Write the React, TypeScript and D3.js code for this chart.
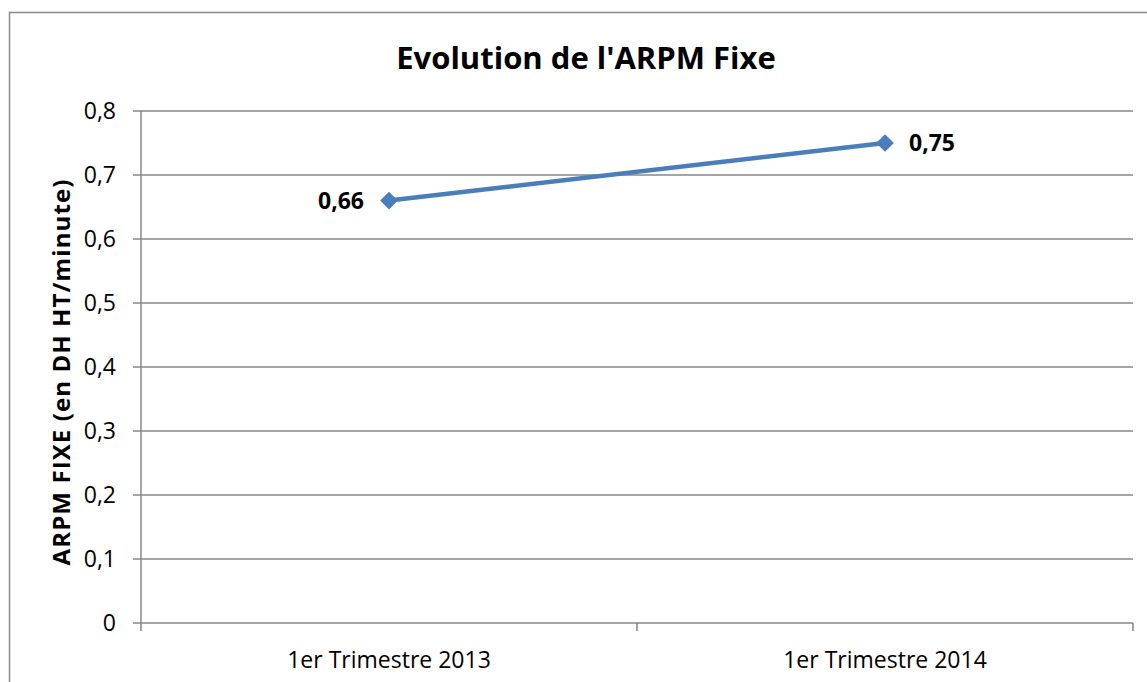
import React, { useEffect, useRef } from 'react';
import * as d3 from 'd3';

const categories = ['1er Trimestre 2013', '1er Trimestre 2014'];
const values = [0.66, 0.75];
const yTicks = [0, 0.1, 0.2, 0.3, 0.4, 0.5, 0.6, 0.7, 0.8];
const title = "Evolution de l'ARPM Fixe";
const yTitle = 'ARPM FIXE (en DH HT/minute)';

const width = 1147;
const height = 682;
const font = '"Open Sans", sans-serif';

const App: React.FC = () => {
  const svgRef = useRef<SVGSVGElement>(null);

  useEffect(() => {
    if (!svgRef.current) return;
    const svg = d3.select(svgRef.current);
    svg.selectAll('*').remove();

    const margin = { top: 111, right: 14, bottom: 59, left: 141 };
    const innerW = width - margin.left - margin.right;
    const innerH = height - margin.top - margin.bottom;
    const grid = '#878787';

    // outer chart frame
    svg.append('rect')
      .attr('x', 9.5).attr('y', 12.5)
      .attr('width', 1150).attr('height', 690)
      .attr('fill', '#fff')
      .attr('stroke', '#8c8c8c')
      .attr('stroke-width', 1.5);

    const g = svg.append('g').attr('transform', `translate(${margin.left},${margin.top})`);

    const x = d3.scaleBand().domain(categories).range([0, innerW]);
    const y = d3.scaleLinear().domain([0, 0.8]).range([innerH, 0]);

    // gridlines + y ticks
    yTicks.forEach(t => {
      g.append('line')
        .attr('x1', -8).attr('x2', innerW)
        .attr('y1', y(t)).attr('y2', y(t))
        .attr('stroke', grid).attr('stroke-width', 1.5);
      g.append('text')
        .attr('x', -25).attr('y', y(t))
        .attr('dy', '0.35em')
        .attr('text-anchor', 'end')
        .attr('font-family', font)
        .attr('font-size', 23)
        .attr('fill', '#000')
        .text(d3.format('.1f')(t).replace('.', ',').replace(/^0,0$/, '0'));
    });

    // y axis line
    g.append('line')
      .attr('x1', 0).attr('x2', 0).attr('y1', 0).attr('y2', innerH)
      .attr('stroke', grid).attr('stroke-width', 1.5);

    // category ticks
    const bounds = [0, ...categories.map(c => (x(c) || 0) + x.bandwidth())];
    bounds.forEach(b => {
      g.append('line')
        .attr('x1', b).attr('x2', b).attr('y1', innerH).attr('y2', innerH + 8)
        .attr('stroke', grid).attr('stroke-width', 1.5);
    });

    categories.forEach(c => {
      g.append('text')
        .attr('x', (x(c) || 0) + x.bandwidth() / 2)
        .attr('y', innerH + 45)
        .attr('text-anchor', 'middle')
        .attr('font-family', font)
        .attr('font-size', 23)
        .attr('fill', '#000')
        .text(c);
    });

    const cx = (c: string) => (x(c) || 0) + x.bandwidth() / 2;
    const pts: [number, number][] = categories.map((c, i) => [cx(c), y(values[i])]);

    g.append('path')
      .attr('d', d3.line()(pts) || '')
      .attr('fill', 'none')
      .attr('stroke', '#4A7EBB')
      .attr('stroke-width', 4.5);

    const diamond = d3.symbol().type(d3.symbolDiamond2).size(200);
    pts.forEach(p => {
      g.append('path')
        .attr('d', diamond() || '')
        .attr('transform', `translate(${p[0]},${p[1]})`)
        .attr('fill', '#4A7EBB');
    });

    // data labels
    values.forEach((v, i) => {
      const left = i === 0;
      g.append('text')
        .attr('x', pts[i][0] + (left ? -25 : 24))
        .attr('y', pts[i][1])
        .attr('dy', '0.35em')
        .attr('text-anchor', left ? 'end' : 'start')
        .attr('font-family', font)
        .attr('font-weight', 'bold')
        .attr('font-size', 23)
        .attr('fill', '#000')
        .text(String(v).replace('.', ','));
    });

    svg.append('text')
      .attr('x', 586).attr('y', 69)
      .attr('text-anchor', 'middle')
      .attr('font-family', font)
      .attr('font-weight', 'bold')
      .attr('font-size', 31)
      .attr('fill', '#000')
      .text(title);

    svg.append('text')
      .attr('transform', `translate(70,${margin.top + innerH / 2 + 5}) rotate(-90)`)
      .attr('text-anchor', 'middle')
      .attr('font-family', font)
      .attr('font-weight', 'bold')
      .attr('font-size', 24)
      .attr('letter-spacing', 1.1)
      .attr('fill', '#000')
      .text(yTitle);
  }, []);

  return (
    <svg
      ref={svgRef}
      width={width}
      height={height}
      style={{ position: 'absolute', left: 0, top: 0, display: 'block' }}
    />
  );
};

export default App;
